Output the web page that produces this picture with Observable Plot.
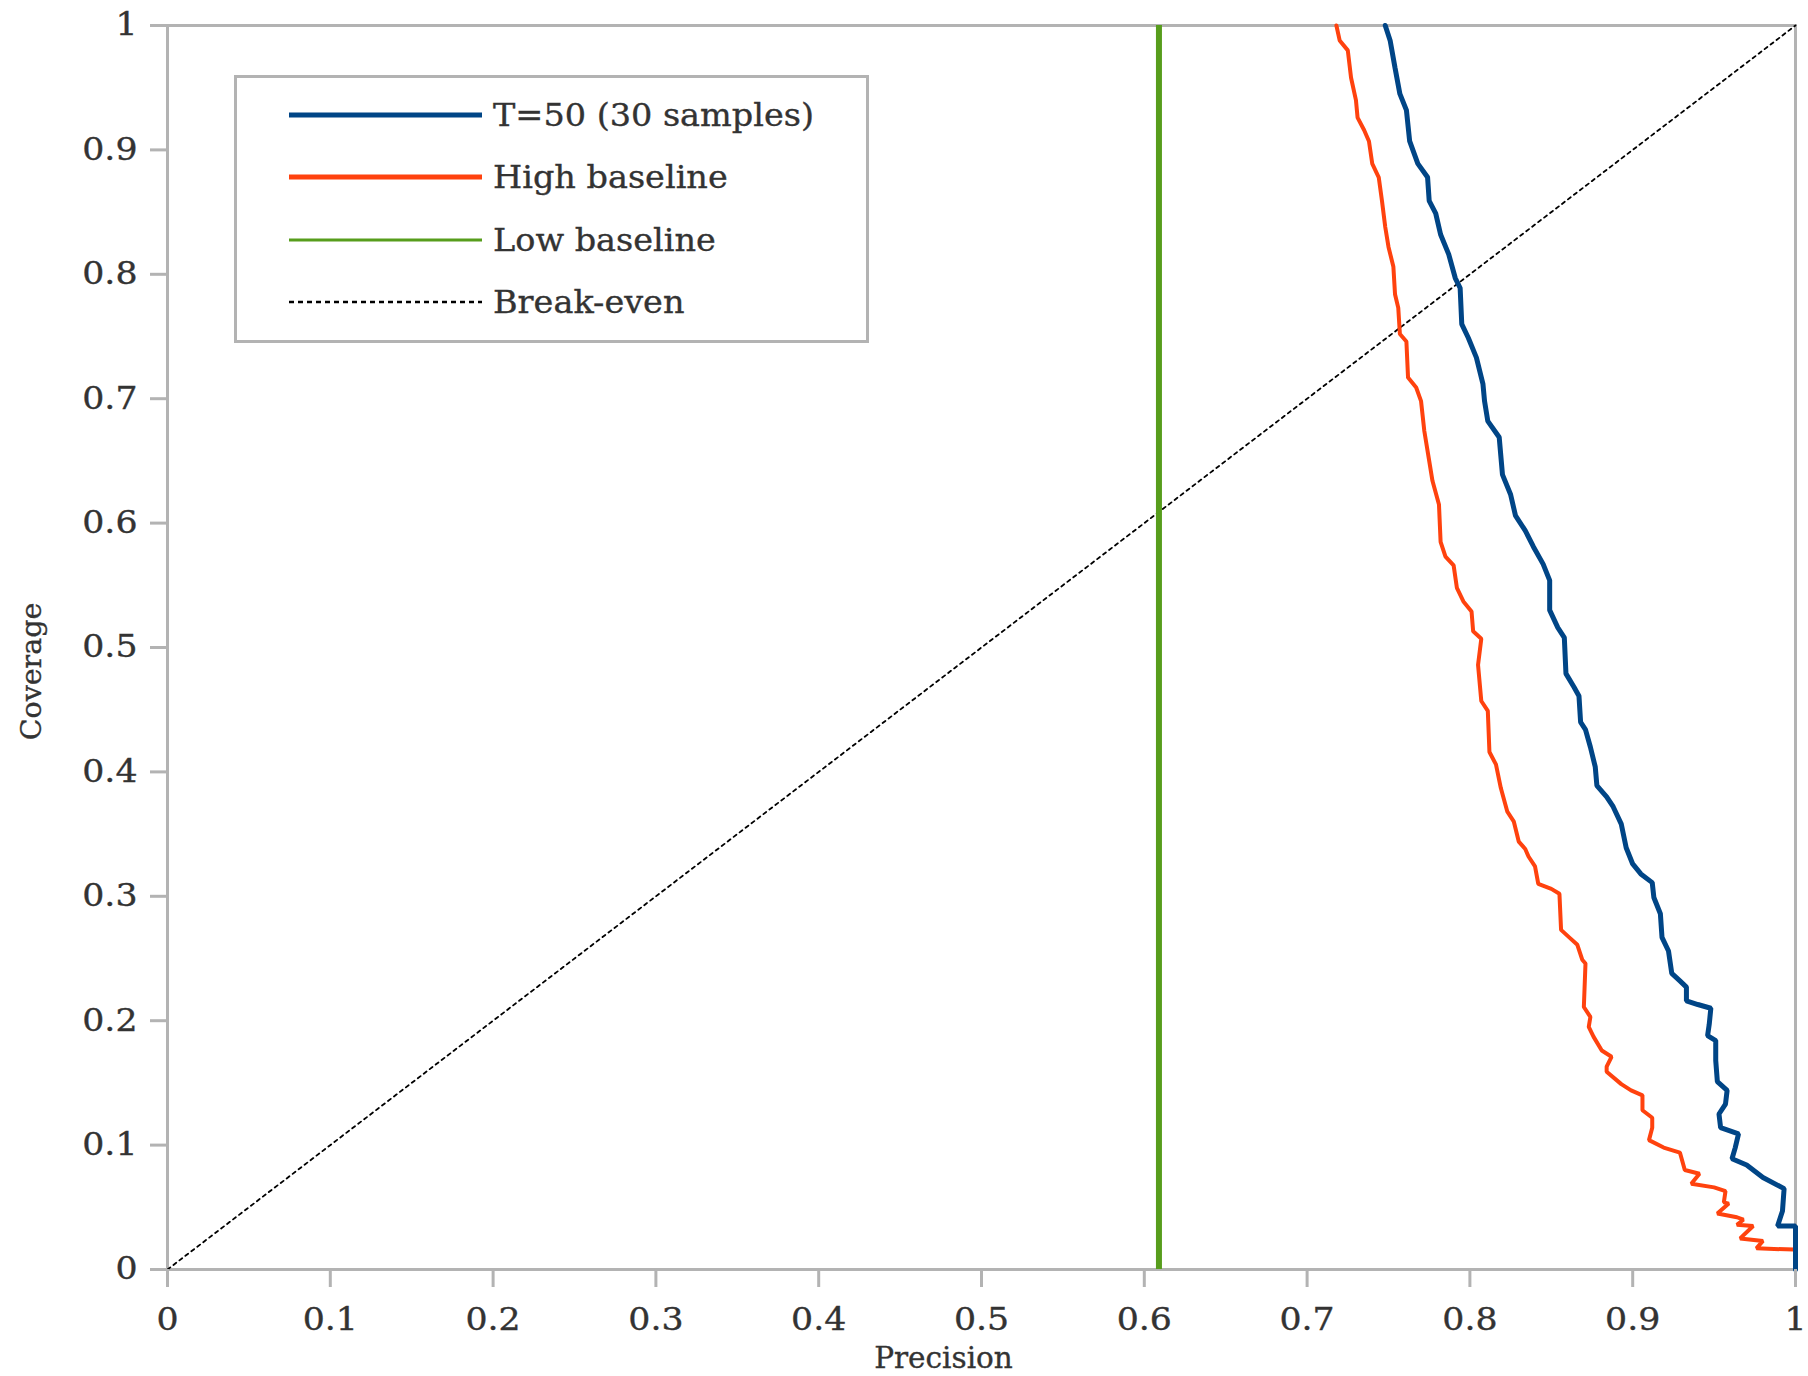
<!DOCTYPE html>
<html>
<head>
<meta charset="utf-8">
<script src="https://cdn.jsdelivr.net/npm/d3@7"></script>
<script src="https://cdn.jsdelivr.net/npm/@observablehq/plot@0.6"></script>
<style>
  html, body { margin: 0; padding: 0; background: #fff; }
  #wrap { position: relative; width: 1808px; height: 1376px; }
  #legend { position: absolute; left: 234px; top: 75px; width: 635px; height: 268px;
            box-sizing: border-box; border: 3px solid #b3b3b3; background: #fff; }
  #legend svg { position: absolute; left: -3px; top: -3px; }
</style>
</head>
<body>
<div id="wrap"><div id="legend"></div></div>
<script>
// ---- data ----
const seriesNames = ["T=50 (30 samples)", "High baseline", "Low baseline", "Break-even"];
const seriesColors = ["#004586", "#ff420e", "#579d1c", "#000000"];

const xTicks = [0, 0.1, 0.2, 0.3, 0.4, 0.5, 0.6, 0.7, 0.8, 0.9, 1];
const yTicks = [0, 0.1, 0.2, 0.3, 0.4, 0.5, 0.6, 0.7, 0.8, 0.9, 1];

// T=50 (30 samples): precision / coverage
const t50Precision = [0.748,0.751,0.754,0.757,0.761,0.763,0.768,0.774,0.775,0.779,0.782,0.787,0.791,0.794,0.795,0.799,0.804,0.808,0.809,
  0.811,0.818,0.820,0.825,0.828,0.834,0.839,0.845,0.849,0.849,0.854,0.858,0.859,0.864,0.867,0.868,0.871,0.874,0.877,0.878,0.884,0.888,0.893,0.896,
  0.900,0.905,0.912,0.913,0.917,0.918,0.922,0.924,0.929,0.933,0.933,0.940,0.948,0.947,0.946,0.951,0.951,0.952,0.958,0.957,0.953,0.954,0.965,0.963,0.961,0.970,0.980,0.993,0.992,0.989,1.0,1.0];
const t50Coverage = [1.0,0.988,0.966,0.945,0.932,0.907,0.889,0.878,0.859,0.849,0.832,0.816,0.797,0.789,0.760,0.749,0.733,0.712,0.698,
  0.682,0.669,0.639,0.623,0.606,0.594,0.581,0.567,0.554,0.530,0.516,0.508,0.479,0.468,0.461,0.440,0.434,0.420,0.404,0.389,0.380,0.372,0.358,0.339,
  0.326,0.318,0.311,0.299,0.286,0.267,0.256,0.238,0.232,0.227,0.216,0.213,0.210,0.197,0.188,0.184,0.168,0.151,0.144,0.133,0.125,0.114,0.109,0.098,0.089,0.084,0.074,0.065,0.047,0.035,0.035,0.0];

// High baseline
const highPrecision = [0.718,0.720,0.725,0.727,0.730,0.731,0.735,0.738,0.740,0.744,0.746,0.748,0.750,0.753,0.754,0.756,0.757,0.761,0.762,0.767,0.770,
  0.772,0.775,0.777,0.781,0.782,0.785,0.790,0.792,0.796,0.801,0.802,0.807,0.805,0.807,0.811,0.812,0.816,0.819,0.823,0.827,0.830,0.834,
  0.836,0.840,0.842,0.850,0.855,0.856,0.861,0.866,0.869,0.871,0.870,0.874,0.873,0.876,0.881,0.887,0.884,0.884,0.893,0.899,0.906,0.906,0.912,0.912,0.910,0.919,0.929,0.932,0.941,0.936,0.950,0.957,0.956,0.959,0.952,0.964,0.968,0.964,0.974,0.966,0.980,0.976,0.999];
const highCoverage = [1.0,0.988,0.980,0.958,0.940,0.926,0.916,0.907,0.889,0.878,0.859,0.838,0.822,0.806,0.784,0.773,0.752,0.746,0.717,0.709,0.698,
  0.674,0.650,0.634,0.615,0.585,0.573,0.566,0.548,0.537,0.529,0.513,0.507,0.486,0.457,0.449,0.416,0.406,0.387,0.368,0.360,0.344,0.338,
  0.332,0.324,0.310,0.306,0.302,0.273,0.267,0.261,0.249,0.246,0.211,0.203,0.195,0.187,0.176,0.171,0.163,0.159,0.149,0.144,0.140,0.128,0.122,0.114,0.104,0.098,0.094,0.080,0.077,0.069,0.066,0.063,0.054,0.053,0.045,0.042,0.040,0.036,0.035,0.025,0.023,0.017,0.016];

// Low baseline: constant precision
const lowBaselinePrecision = [0.609];

// Break-even diagonal
const breakEvenPrecision = [0, 1];
const breakEvenCoverage = [0, 1];

// ---- build tables ----
const t50 = t50Precision.map((p, i) => ({p, c: t50Coverage[i]}));
const high = highPrecision.map((p, i) => ({p, c: highCoverage[i]}));
const breakEven = breakEvenPrecision.map((p, i) => ({p, c: breakEvenCoverage[i]}));

const FONT = "DejaVu Serif";
const TEXT = "#333333";
const AXIS = "#b3b3b3";

const chart = Plot.plot({
  width: 1808,
  height: 1376,
  marginLeft: 167,
  marginRight: 13,
  marginTop: 25,
  marginBottom: 107,
  style: {fontFamily: FONT, background: "#fff"},
  x: {domain: [0, 1]},
  y: {domain: [0, 1]},
  marks: [
    Plot.frame({stroke: AXIS, strokeWidth: 3}),
    Plot.line(breakEven, {x: "p", y: "c", stroke: seriesColors[3], strokeWidth: 1.8, strokeDasharray: "3.5,4"}),
    Plot.ruleX(lowBaselinePrecision, {stroke: seriesColors[2], strokeWidth: 6}),
    Plot.line(high, {x: "p", y: "c", stroke: seriesColors[1], strokeWidth: 4, strokeLinejoin: "miter"}),
    Plot.line(t50, {x: "p", y: "c", stroke: seriesColors[0], strokeWidth: 5, strokeLinejoin: "miter"}),
    Plot.axisX({ticks: xTicks, tickFormat: d => String(d), tickSize: 18, tickPadding: 20,
      stroke: AXIS, strokeWidth: 3, fill: TEXT, fontSize: 31, fontFamily: FONT, label: null}),
    Plot.axisY({ticks: yTicks, tickFormat: d => String(d), tickSize: 17, tickPadding: 13,
      stroke: AXIS, strokeWidth: 3, fill: TEXT, fontSize: 31, fontFamily: FONT, label: null}),
    Plot.text(["Precision"], {frameAnchor: "bottom", dx: -38, dy: 89, fill: TEXT, fontSize: 29.5, fontFamily: FONT, lineAnchor: "middle"}),
    Plot.text(["Coverage"], {frameAnchor: "left", dx: -136, dy: 24, rotate: -90, textAnchor: "middle", fill: TEXT, fontSize: 28.5, fontFamily: FONT, lineAnchor: "middle"})
  ]
});
document.getElementById("wrap").prepend(chart);

// widen tick labels slightly (the reference font renders wider)
function stretch(sel, k) {
  sel.each(function() {
    const len = this.getComputedTextLength();
    d3.select(this).attr("textLength", len * k).attr("lengthAdjust", "spacingAndGlyphs");
  });
}
stretch(d3.select(chart).selectAll('g[aria-label="x-axis tick label"] text, g[aria-label="y-axis tick label"] text'), 1.12);
d3.select(chart).selectAll("text").attr("stroke", TEXT).attr("stroke-width", 0.35);

// ---- legend (inside the plot area) ----
const lg = d3.select("#legend").append("svg").attr("width", 635).attr("height", 268)
  .style("font-family", FONT);
const rowY = [40, 102, 165, 227];
const swWidth = [5, 5, 3, 2.5];
const swDash = [null, null, null, "5,4"];
seriesNames.forEach((name, i) => {
  lg.append("line").attr("x1", 55).attr("x2", 248).attr("y1", rowY[i]).attr("y2", rowY[i])
    .attr("stroke", seriesColors[i]).attr("stroke-width", swWidth[i])
    .attr("stroke-dasharray", swDash[i]);
  lg.append("text").attr("x", 259).attr("y", rowY[i]).attr("dy", "0.35em")
    .attr("fill", TEXT).attr("stroke", TEXT).attr("stroke-width", 0.35)
    .attr("font-size", 31).text(name);
});
stretch(lg.selectAll("text"), 1.08);
</script>
</body>
</html>
